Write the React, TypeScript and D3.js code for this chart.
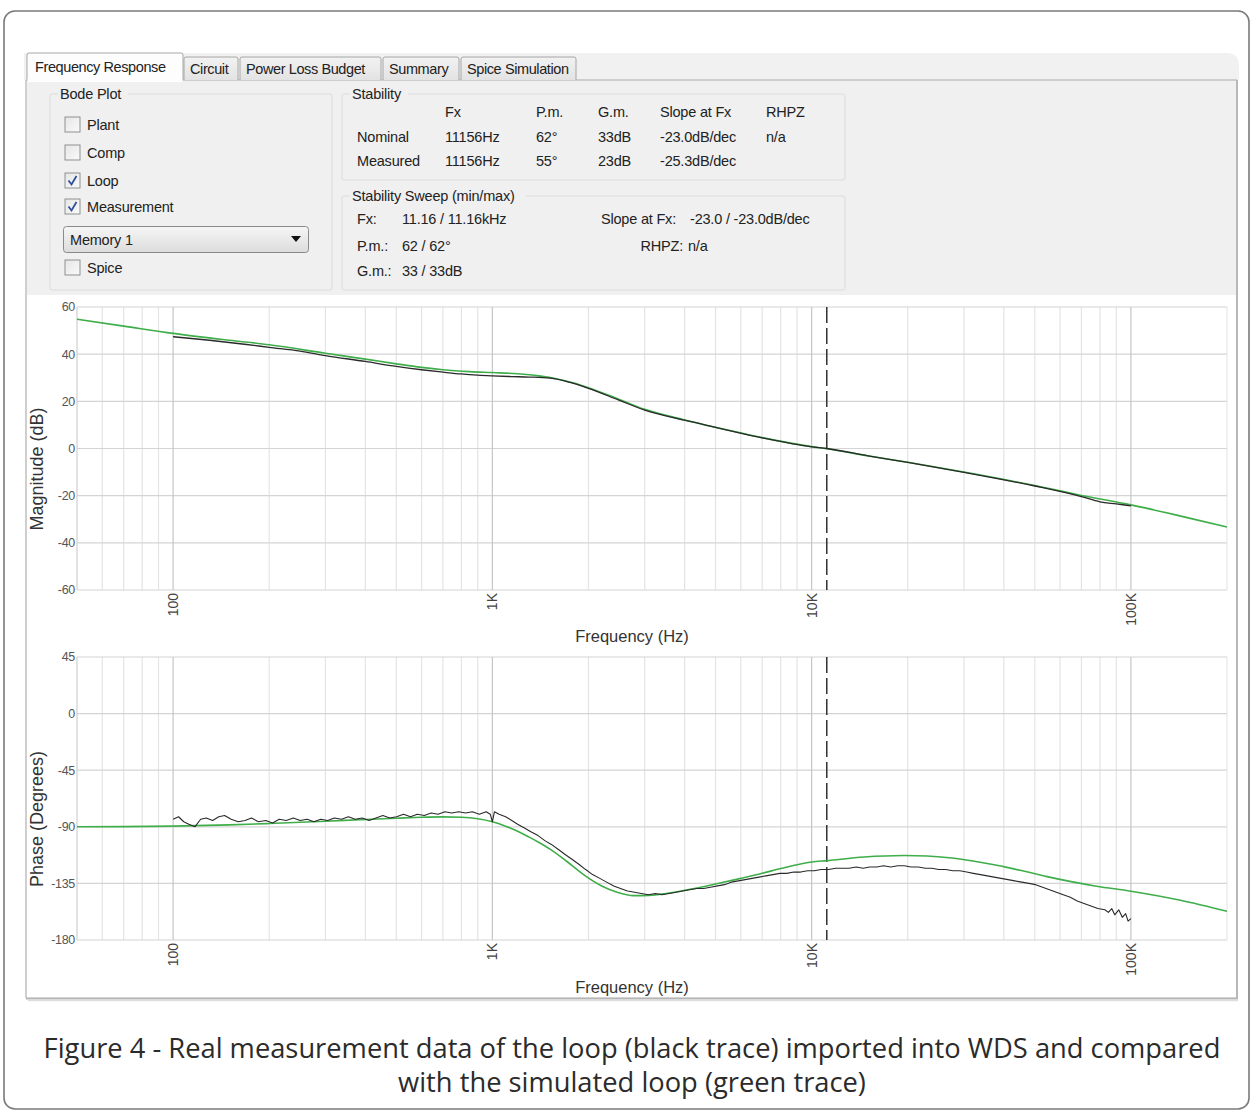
import React, { useEffect } from "react";
import * as d3 from "d3";

// ---------------- DATA ----------------
const decadeTicks = [100, 1000, 10000, 100000];
const decadeLabels = ["100", "1K", "10K", "100K"];
const magTicks = [60, 40, 20, 0, -20, -40, -60];
const phaseTicks = [45, 0, -45, -90, -135, -180];
const crossoverHz = 11156;

const simMagFreq = [50, 70, 100, 150, 200, 300, 400, 500, 600, 700, 850, 1000, 1200, 1400, 1600, 1800, 2000, 2500, 3000, 4000, 5000, 7000, 10000, 11156, 15000, 20000, 30000, 50000, 70000, 100000, 150000, 200000];
const simMagDb = [54.8, 51.9, 48.8, 45.9, 44.0, 40.4, 37.9, 35.9, 34.4, 33.4, 32.6, 32.2, 31.7, 30.8, 29.5, 27.8, 25.8, 20.8, 16.6, 12.1, 9.0, 4.6, 0.8, -0.1, -3.1, -5.8, -10.0, -15.7, -19.9, -23.9, -29.3, -33.3];

const measMagFreq = [100, 130, 170, 200, 250, 300, 400, 500, 600, 700, 800, 900, 1000, 1150, 1300, 1520, 1750, 2000, 2500, 3000, 4000, 5000, 7000, 10000, 11156, 15000, 20000, 30000, 50000, 70000, 80000, 90000, 100000];
const measMagDb = [47.4, 45.9, 44.1, 42.9, 41.3, 39.4, 36.9, 34.8, 33.4, 32.4, 31.6, 31.1, 30.8, 30.5, 30.3, 29.8, 28.0, 25.5, 20.4, 16.3, 12.0, 9.0, 4.5, 0.7, 0.0, -3.1, -5.9, -10.1, -15.9, -20.4, -22.6, -23.5, -24.3];

const simPhaseFreq = [50, 70, 100, 150, 200, 300, 400, 500, 600, 700, 800, 900, 1000, 1100, 1200, 1300, 1400, 1520, 1700, 1930, 2200, 2460, 2770, 3100, 3500, 4000, 4500, 5000, 6000, 7000, 8000, 10000, 11156, 14600, 19500, 23000, 27000, 32000, 38000, 45000, 54600, 65000, 78000, 100000, 143000, 200000];
const simPhaseDeg = [-90, -89.9, -89.5, -88.5, -87.4, -85.6, -84.2, -83.2, -82.4, -82.1, -82.4, -83.6, -86, -89.5, -93.5, -98, -102.5, -108, -117, -128, -137, -142, -144.7, -144.5, -143, -140.5, -138, -135.5, -131, -127, -123.2, -118, -116.9, -114, -112.8, -113.2, -114.6, -117.2, -120.6, -124.6, -129.6, -133.6, -137.2, -141.2, -148.4, -157.2];

const measPhaseFreq = [100, 104, 108, 112, 117, 122, 127, 133, 139, 145, 152, 160, 168, 176, 185, 195, 205, 215, 226, 238, 250, 263, 276, 290, 305, 320, 337, 354, 372, 391, 411, 432, 454, 477, 501, 527, 554, 582, 612, 643, 676, 710, 746, 784, 824, 866, 910, 956, 985, 1000, 1015, 1050, 1100, 1150, 1200, 1260, 1320, 1390, 1460, 1530, 1610, 1690, 1780, 1870, 1960, 2060, 2170, 2280, 2400, 2520, 2650, 2790, 2930, 3080, 3240, 3400, 3580, 3760, 3950, 4150, 4370, 4590, 4820, 5070, 5330, 5600, 5890, 6190, 6510, 6840, 7190, 7560, 7950, 8360, 8790, 9240, 9710, 10200, 10700, 11300, 11900, 12500, 13100, 13800, 14500, 15200, 16000, 16800, 17700, 18600, 19500, 20500, 21600, 22700, 23800, 25000, 26300, 27700, 29100, 30600, 32100, 33800, 35500, 37300, 39200, 41200, 43300, 45500, 47900, 50300, 52900, 55600, 58400, 61400, 64600, 67900, 71300, 75000, 78800, 82900, 85000, 87100, 89000, 91600, 94000, 96300, 98000, 100000];
const measPhaseDeg = [-84, -82, -86, -88, -90, -84, -83, -85, -82, -81, -84, -86, -85, -83, -86, -85, -87, -84, -85, -83, -85, -84, -86, -84, -85, -83, -84, -82, -84, -83, -85, -83, -81, -83, -82, -80, -82, -80, -81, -79, -80, -78, -79, -78, -79, -78, -80, -78, -80, -86, -78, -80, -82, -85, -88, -91, -94, -97, -101, -104, -108, -112, -116, -120, -124, -128, -131, -134, -137, -139, -141, -142, -143, -144, -143, -144, -143, -142, -141, -140, -139, -139, -138, -137, -136, -134, -133, -132, -131, -130, -129, -128, -127, -127, -126, -126, -125, -125, -124, -124, -123, -123, -123, -122, -123, -122, -122, -121, -122, -121, -121, -122, -122, -123, -123, -124, -124, -125, -125, -126, -127, -128, -129, -130, -131, -132, -133, -134, -135, -136, -138, -140, -142, -144, -146, -149, -151, -153, -155, -156, -158, -155, -160, -156, -162, -159, -165, -163];

const tabs = ["Frequency Response", "Circuit", "Power Loss Budget", "Summary", "Spice Simulation"];
const checkItems = ["Plant", "Comp", "Loop", "Measurement"];
const checkStates = [false, false, true, true];
const stabHeaders = ["Fx", "P.m.", "G.m.", "Slope at Fx", "RHPZ"];
const stabNominal = ["Nominal", "11156Hz", "62°", "33dB", "-23.0dB/dec", "n/a"];
const stabMeasured = ["Measured", "11156Hz", "55°", "23dB", "-25.3dB/dec", ""];
const captionLines = [
  "Figure 4 - Real measurement data of the loop (black trace) imported into WDS and compared",
  "with the simulated loop (green trace)",
];

// ---------------- HELPERS ----------------
const zip = (a: number[], b: number[]) => a.map((v, i) => [v, b[i]] as [number, number]);
const UI_FONT = "'Liberation Sans', Arial, sans-serif";
const UI_SIZE = 14.5;
const GREEN = "#3fae4a";
const BLACK = "#2a2a2a";

function CheckBox({ x, y, checked }: { x: number; y: number; checked: boolean }) {
  return (
    <g>
      <rect x={x} y={y} width={15} height={15} fill="url(#cbGrad)" stroke="#8e8f8f" strokeWidth={1} />
      {checked && (
        <path d={`M${x + 3.5},${y + 7.5} L${x + 6.5},${y + 11.5} L${x + 11.5},${y + 3}`} fill="none" stroke="#2f4f9a" strokeWidth={1.8} />
      )}
    </g>
  );
}

function GroupBox({ x, y, w, h, title, titleW }: { x: number; y: number; w: number; h: number; title: string; titleW: number }) {
  return (
    <g>
      <path
        d={`M${x + 8},${y} L${x + 2},${y} Q${x},${y} ${x},${y + 2} L${x},${y + h - 2} Q${x},${y + h} ${x + 2},${y + h} L${x + w - 2},${y + h} Q${x + w},${y + h} ${x + w},${y + h - 2} L${x + w},${y + 2} Q${x + w},${y} ${x + w - 2},${y} L${x + 12 + titleW},${y}`}
        fill="none"
        stroke="#d9dcdf"
        strokeWidth={1}
      />
      <text x={x + 10} y={y + 5} fontSize={UI_SIZE} fill="#222" fontFamily={UI_FONT} letterSpacing={-0.2}>{title}</text>
    </g>
  );
}

function BodePanel({
  yScale, ticks, label, labelY, freqLabelY, tickLabelY, series,
}: {
  yScale: d3.ScaleLinear<number, number>;
  ticks: number[];
  label: string;
  labelY: number;
  freqLabelY: number;
  tickLabelY: number;
  series: { data: [number, number][]; color: string; width: number; smooth: boolean }[];
}) {
  const x = d3.scaleLog().domain([50, 200000]).range([77, 1227]);
  const [y0, y1] = yScale.range();
  const minor: number[] = [];
  for (const d of [10, 100, 1000, 10000, 100000]) {
    for (let k = 2; k <= 9; k++) {
      const f = k * d;
      if (f > 50 && f < 200000) minor.push(f);
    }
  }
  const xl = x.range();
  return (
    <g>
      {minor.map((f) => (
        <line key={"m" + f} x1={x(f)} x2={x(f)} y1={y1} y2={y0} stroke="#e4e4e4" strokeWidth={1.2} />
      ))}
      {ticks.map((t) => (
        <line key={"h" + t} x1={xl[0]} x2={xl[1]} y1={yScale(t)} y2={yScale(t)} stroke="#d4d4d4" strokeWidth={1.2} />
      ))}
      {decadeTicks.map((f) => (
        <line key={"d" + f} x1={x(f)} x2={x(f)} y1={y1} y2={y0} stroke="#c6c6c6" strokeWidth={1.2} />
      ))}
      <line x1={xl[0]} x2={xl[0]} y1={y1} y2={y0} stroke="#cfcfcf" strokeWidth={1.2} />
      <line x1={xl[1]} x2={xl[1]} y1={y1} y2={y0} stroke="#e2e2e2" strokeWidth={1} />
      {ticks.map((t) => (
        <text key={"yl" + t} x={75} y={yScale(t)} dy="0.35em" textAnchor="end" fontSize={12.5} fill="#555" fontFamily={UI_FONT} letterSpacing={-0.3}>
          {t}
        </text>
      ))}
      {decadeTicks.map((f, i) => (
        <text key={"xl" + f} transform={`translate(${x(f)},${tickLabelY}) rotate(-90)`} dy="0.35em" textAnchor="end" fontSize={14} fill="#444" fontFamily={UI_FONT}>
          {decadeLabels[i]}
        </text>
      ))}
      <text x={632} y={freqLabelY} dy="0.35em" textAnchor="middle" fontSize={16.5} fill="#333" fontFamily={UI_FONT}>
        Frequency (Hz)
      </text>
      <text transform={`translate(37,${labelY}) rotate(-90)`} dy="0.35em" textAnchor="middle" fontSize={18} fill="#333" fontFamily={UI_FONT}>
        {label}
      </text>
      <line x1={x(crossoverHz)} x2={x(crossoverHz)} y1={y1} y2={y0} stroke="#222" strokeWidth={1.4} strokeDasharray="16,5" />
      {series.map((s, i) => {
        const gen = d3
          .line<[number, number]>()
          .x((d) => x(d[0]))
          .y((d) => yScale(d[1]))
          .curve(s.smooth ? d3.curveMonotoneX : d3.curveLinear);
        return <path key={i} d={gen(s.data) || ""} fill="none" stroke={s.color} strokeWidth={s.width} strokeLinejoin="round" />;
      })}
    </g>
  );
}

export default function App() {
  useEffect(() => {
    document.body.style.margin = "0";
  }, []);

  const magY = d3.scaleLinear().domain([-60, 60]).range([590, 307]);
  const phY = d3.scaleLinear().domain([-180, 45]).range([940, 657]);

  const tabX = [27, 184, 240, 383, 461, 578];
  const stabCols = [357, 445, 536, 598, 660, 766];
  const T = { fontSize: UI_SIZE, fill: "#222", fontFamily: UI_FONT, letterSpacing: -0.2 } as const;

  return (
    <svg width={1254} height={1114} style={{ position: "absolute", left: 0, top: 0, display: "block" }} xmlns="http://www.w3.org/2000/svg">
      <defs>
        <linearGradient id="cbGrad" x1="0" y1="0" x2="1" y2="1">
          <stop offset="0" stopColor="#e6e6e6" />
          <stop offset="1" stopColor="#fafafa" />
        </linearGradient>
        <linearGradient id="tabGrad" x1="0" y1="0" x2="0" y2="1">
          <stop offset="0" stopColor="#f2f2f2" />
          <stop offset="1" stopColor="#e3e3e3" />
        </linearGradient>
        <linearGradient id="ddGrad" x1="0" y1="0" x2="0" y2="1">
          <stop offset="0" stopColor="#f6f6f6" />
          <stop offset="1" stopColor="#dcdcdc" />
        </linearGradient>
      </defs>
      <rect width={1254} height={1114} fill="#fff" />
      {/* outer frame */}
      <rect x={4} y={11} width={1245} height={1098} rx={11} fill="#fff" stroke="#7a7a7a" strokeWidth={1.6} />

      {/* screenshot */}
      <path d="M24,80 L24,53 L1226,53 Q1239,53 1239,66 L1239,80 Z" fill="#f1f1f1" />
      <rect x={25} y={80} width={1213} height={918} fill="#f0f0f0" />
      <rect x={27} y={295} width={1209} height={702} fill="#fff" />
      <line x1={26} y1={80} x2={26} y2={998} stroke="#c4c4c4" strokeWidth={1.5} />
      <line x1={1237} y1={80} x2={1237} y2={998} stroke="#b8b8b8" strokeWidth={2} />
      <line x1={26} y1={80} x2={1237} y2={80} stroke="#a9a9a9" strokeWidth={1.2} />
      <line x1={26} y1={998.5} x2={1238} y2={998.5} stroke="#b5b5b5" strokeWidth={2} />
      <line x1={28} y1={1000.5} x2={1238} y2={1000.5} stroke="#dedede" strokeWidth={1.5} />

      {/* tabs */}
      {tabs.map((t, i) => {
        const active = i === 0;
        const x0 = tabX[i];
        const x1 = i === 0 ? 183 : tabX[i + 1] - 2;
        const yTop = active ? 53 : 57;
        return (
          <g key={t}>
            <path
              d={`M${x0},80 L${x0},${yTop + 2} Q${x0},${yTop} ${x0 + 2},${yTop} L${x1 - 2},${yTop} Q${x1},${yTop} ${x1},${yTop + 2} L${x1},80`}
              fill={active ? "#fdfdfd" : "url(#tabGrad)"}
              stroke="#a6a6a6"
              strokeWidth={1}
            />
            <text x={x0 + (active ? 8 : 6)} y={active ? 67 : 69} dy="0.35em" {...T} letterSpacing={-0.4}>
              {t}
            </text>
          </g>
        );
      })}
      <rect x={27.5} y={79} width={155} height={3} fill="#fdfdfd" />

      {/* Bode Plot group */}
      <GroupBox x={50} y={94} w={282} h={196} title="Bode Plot" titleW={66} />
      {checkItems.map((c, i) => {
        const cy = [125, 153, 181, 207][i];
        return (
          <g key={c}>
            <CheckBox x={65} y={cy - 8} checked={checkStates[i]} />
            <text x={87} y={cy} dy="0.35em" {...T}>{c}</text>
          </g>
        );
      })}
      <rect x={63.5} y={226.5} width={245} height={26} rx={3} fill="url(#ddGrad)" stroke="#8a8a8a" />
      <text x={70} y={239.5} dy="0.35em" {...T}>Memory 1</text>
      <path d="M291,236 L301,236 L296,242 Z" fill="#111" />
      <CheckBox x={65} y={260} checked={false} />
      <text x={87} y={268} dy="0.35em" {...T}>Spice</text>

      {/* Stability group */}
      <GroupBox x={342} y={94} w={503} h={86} title="Stability" titleW={54} />
      {stabHeaders.map((h, i) => (
        <text key={h} x={stabCols[i + 1]} y={112} dy="0.35em" {...T}>{h}</text>
      ))}
      {stabNominal.map((v, i) => (
        <text key={"n" + i} x={stabCols[i]} y={137} dy="0.35em" {...T}>{v}</text>
      ))}
      {stabMeasured.map((v, i) => (
        <text key={"m" + i} x={stabCols[i]} y={161} dy="0.35em" {...T}>{v}</text>
      ))}

      {/* Stability sweep group */}
      <GroupBox x={342} y={196} w={503} h={94} title="Stability Sweep (min/max)" titleW={172} />
      <g {...T}>
        <text x={357} y={219} dy="0.35em">Fx:</text>
        <text x={402} y={219} dy="0.35em">11.16 / 11.16kHz</text>
        <text x={601} y={219} dy="0.35em">Slope at Fx:</text>
        <text x={690} y={219} dy="0.35em">-23.0 / -23.0dB/dec</text>
        <text x={357} y={246} dy="0.35em">P.m.:</text>
        <text x={402} y={246} dy="0.35em">62 / 62°</text>
        <text x={683} y={246} dy="0.35em" textAnchor="end">RHPZ:</text>
        <text x={688} y={246} dy="0.35em">n/a</text>
        <text x={357} y={271} dy="0.35em">G.m.:</text>
        <text x={402} y={271} dy="0.35em">33 / 33dB</text>
      </g>

      {/* magnitude */}
      <BodePanel
        yScale={magY}
        ticks={magTicks}
        label="Magnitude (dB)"
        labelY={469}
        freqLabelY={636}
        tickLabelY={593}
        series={[
          { data: zip(simMagFreq, simMagDb), color: GREEN, width: 1.6, smooth: true },
          { data: zip(measMagFreq, measMagDb), color: BLACK, width: 1.3, smooth: true },
        ]}
      />
      {/* phase */}
      <BodePanel
        yScale={phY}
        ticks={phaseTicks}
        label="Phase (Degrees)"
        labelY={819}
        freqLabelY={987}
        tickLabelY={943}
        series={[
          { data: zip(simPhaseFreq, simPhaseDeg), color: GREEN, width: 1.6, smooth: true },
          { data: zip(measPhaseFreq, measPhaseDeg), color: BLACK, width: 1.1, smooth: false },
        ]}
      />

      {/* caption */}
      {captionLines.map((l, i) => (
        <text key={i} x={632} y={1058 + i * 34} textAnchor="middle" fontSize={27.3} fill="#2b2b2b" fontFamily="'Open Sans', sans-serif">
          {l}
        </text>
      ))}
    </svg>
  );
}
